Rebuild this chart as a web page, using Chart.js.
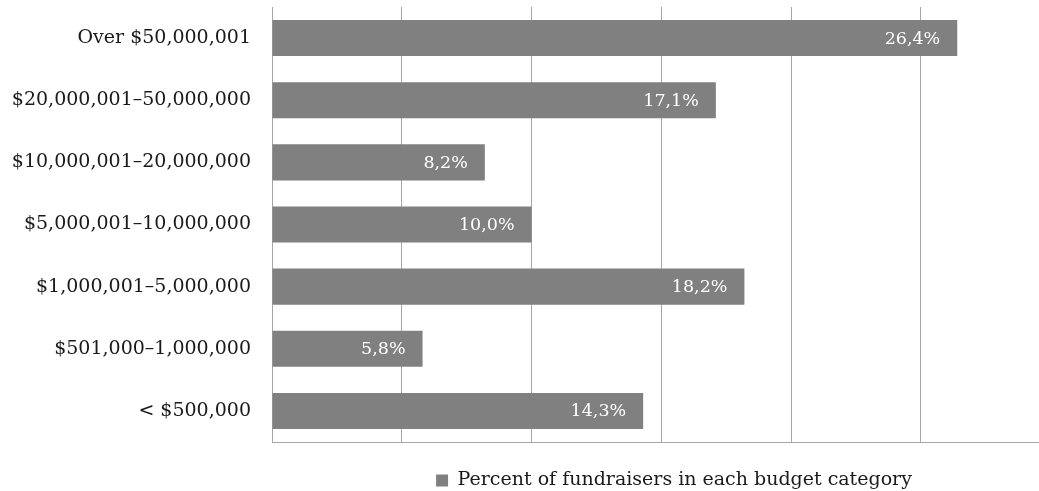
<!DOCTYPE html>
<html>
<head>
<meta charset="utf-8">
<script src="https://cdn.jsdelivr.net/npm/chart.js@4.4.0/dist/chart.umd.min.js"></script>
<style>
  html, body { margin: 0; padding: 0; background: #fff; overflow: hidden; }
  #wrap { width: 1039px; height: 491px; }
</style>
</head>
<body>
<div id="wrap"><canvas id="myChart"></canvas></div>
<script>
const labels = [
  'Over $50,000,001',
  '$20,000,001–50,000,000',
  '$10,000,001–20,000,000',
  '$5,000,001–10,000,000',
  '$1,000,001–5,000,000',
  '$501,000–1,000,000',
  '< $500,000',
];
const percents = [26.4, 17.1, 8.2, 10.0, 18.2, 5.8, 14.3];
const seriesName = 'Percent of fundraisers in each budget category';
const gridSteps = [0, 5, 10, 15, 20, 25];

const serif = "'DejaVu Serif', serif";

// value labels drawn inside the end of each bar
const barText = {
  id: 'barText',
  afterDatasetsDraw(chart) {
    const ctx = chart.ctx;
    const meta = chart.getDatasetMeta(0);
    ctx.save();
    ctx.font = "17.5px " + serif;
    ctx.fillStyle = '#ffffff';
    ctx.textAlign = 'right';
    ctx.textBaseline = 'middle';
    meta.data.forEach((bar, i) => {
      const txt = percents[i].toFixed(1).replace('.', ',') + '%';
      ctx.fillText(txt, bar.x - 17, bar.y + 1);
    });
    ctx.restore();
  }
};

// legend is not centred on the canvas in the original
const legendShift = {
  id: 'legendShift',
  afterLayout(chart) {
    const l = chart.legend;
    const shift = 674 - (l.left + l.right) / 2;
    l.left += shift;
    l.right += shift;
    l.top += 9;
    l.bottom += 9;
  }
};

const data = {
  labels: labels,
  datasets: [{
    label: seriesName,
    data: percents,
    backgroundColor: '#808080',
    borderWidth: 0,
    categoryPercentage: 1,
    barPercentage: 0.58,
  }]
};

const config = {
  type: 'bar',
  data: data,
  options: {
    indexAxis: 'y',
    responsive: true,
    maintainAspectRatio: false,
    animation: false,
    layout: { padding: { top: 7, left: 0, right: 0, bottom: 0 } },
    scales: {
      x: {
        min: 0,
        max: 29.55,
        afterBuildTicks(scale) {
          scale.ticks = gridSteps.map(v => ({ value: v }));
        },
        ticks: { display: false },
        grid: { color: '#a6a6a6', lineWidth: 1, drawTicks: false },
        border: { color: '#a6a6a6', width: 1 },
      },
      y: {
        afterFit(scale) {
          scale.paddingTop = 0;
          scale.paddingBottom = 0;
          scale.width = 272;
        },
        ticks: {
          color: '#1a1a1a',
          font: { family: serif, size: 19 },
          padding: 21,
        },
        grid: { display: false, drawTicks: false },
        border: { color: '#a6a6a6', width: 1 },
      }
    },
    plugins: {
      legend: {
        position: 'bottom',
        labels: {
          color: '#1a1a1a',
          font: { family: serif, size: 19 },
          boxWidth: 12,
          boxHeight: 12,
          padding: 20,
        }
      },
      tooltip: { enabled: false }
    }
  },
  plugins: [barText, legendShift]
};

const myChart = new Chart(document.getElementById('myChart'), config);
</script>
</body>
</html>
